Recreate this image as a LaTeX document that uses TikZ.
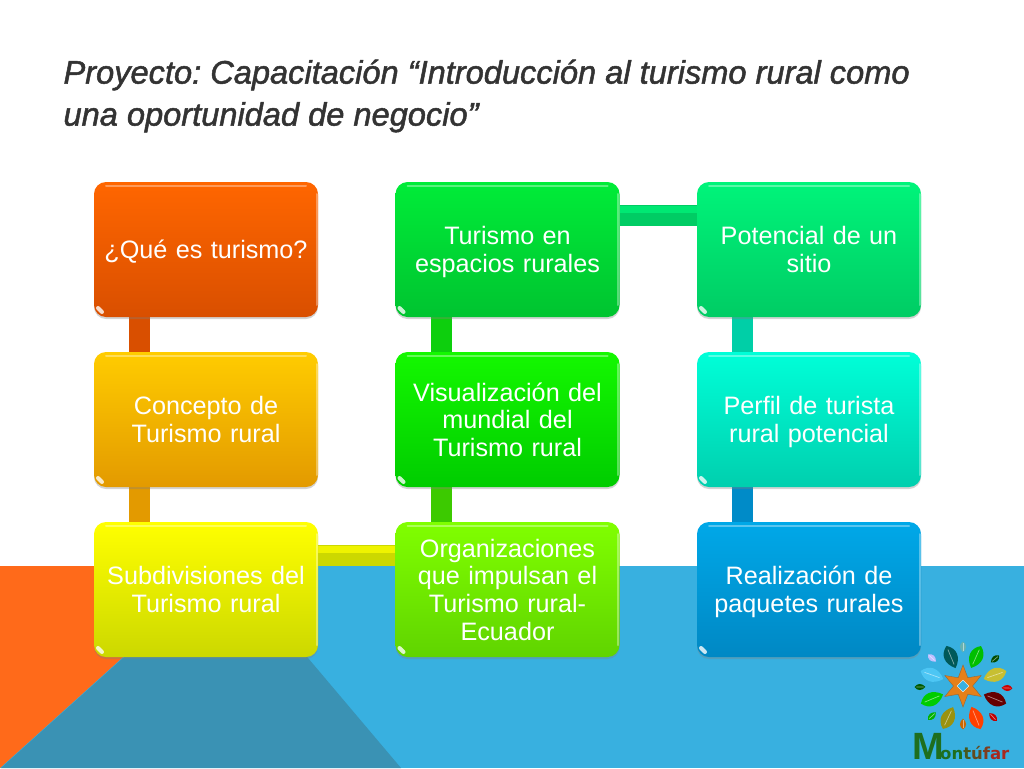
\documentclass[tikz,border=0pt]{standalone}
\usepackage{fontspec}
\setmainfont{Liberation Sans}
\newfontfamily\titulofont[FakeBold=1.5]{Liberation Sans Italic}
\newfontfamily\logofont{DejaVu Sans}
\usetikzlibrary{shapes.geometric,shadows,backgrounds}
\definecolor{fondoazul}{HTML}{38B0E0}
\definecolor{fondonaranja}{HTML}{FF6A1A}
\definecolor{fondooscuro}{HTML}{3A92B4}
\definecolor{verdelogo}{HTML}{1E6E1E}
\definecolor{rojologo}{HTML}{A8281E}
\tikzset{
  tema/.style 2 args={draw=none, rounded corners=12pt, minimum width=224pt, minimum height=135pt,
    outer sep=0pt, inner sep=0pt, top color=#1, bottom color=#2, text=white, text width=216pt, align=center,
    font=\fontsize{25.2}{27.6}\selectfont, execute at begin node=\rule{0pt}{23.5pt}, execute at end node=\vphantom{gp},
    drop shadow={shadow xshift=0pt, shadow yshift=-2pt, opacity=.35}},
  enlace/.style={line width=21pt},
  brillo/.style={line width=7pt, opacity=.7},
  reflejo/.style={line width=2pt, line cap=round, white, opacity=.35}
}
\definecolor{a1}{HTML}{FF6600}\definecolor{a2}{HTML}{D94F00}
\definecolor{b1}{HTML}{FFCC00}\definecolor{b2}{HTML}{E39A00}
\definecolor{c1}{HTML}{FFFF00}\definecolor{c2}{HTML}{CCD800}
\definecolor{d1}{HTML}{00EC38}\definecolor{d2}{HTML}{00C430}
\definecolor{e1}{HTML}{14F800}\definecolor{e2}{HTML}{00CC00}
\definecolor{f1}{HTML}{80FF00}\definecolor{f2}{HTML}{60D400}
\definecolor{g1}{HTML}{00F47A}\definecolor{g2}{HTML}{00CC64}
\definecolor{h1}{HTML}{00FFD8}\definecolor{h2}{HTML}{00CFAE}
\definecolor{i1}{HTML}{00A8E8}\definecolor{i2}{HTML}{0088C4}
\begin{document}
\begin{tikzpicture}[x=1pt, y=-1pt]
  \useasboundingbox (0,0) rectangle (1024,768);

  % titulo
  \node (titulo) [anchor=west, align=left, text=black!80, font=\fontsize{32.6}{42}\titulofont\frenchspacing] at (60,96)
    {Proyecto: Capacitación “Introducción al turismo rural como\\una oportunidad de negocio”};

  % cajas
  \node (que) [tema={a1}{a2}] at (206,249.5) {¿Qué es turismo?};
  \node (con) [tema={b1}{b2}] at (206,419.5) {Concepto de\\Turismo rural};
  \node (sub) [tema={c1}{c2}] at (206,589.5) {Subdivisiones del\\Turismo rural};
  \node (esp) [tema={d1}{d2}] at (507.5,249.5) {Turismo en\\espacios rurales};
  \node (vis) [tema={e1}{e2}] at (507.5,419.5) {Visualización del\\mundial del\\Turismo rural};
  \node (org) [tema={f1}{f2}] at (507.5,589.5) {Organizaciones\\que impulsan el\\Turismo rural-\\Ecuador};
  \node (pot) [tema={g1}{g2}] at (809,249.5) {Potencial de un\\sitio};
  \node (per) [tema={h1}{h2}] at (809,419.5) {Perfil de turista\\rural potencial};
  \node (rea) [tema={i1}{i2}] at (809,589.5) {Realización de\\paquetes rurales};

  \foreach \n in {que,con,sub,esp,vis,org,pot,per,rea} {
    \draw[reflejo] ([xshift=12pt,yshift=-4pt]\n.north west) -- ([xshift=-12pt,yshift=-4pt]\n.north east);
    \draw[reflejo] ([xshift=-1.5pt,yshift=-12pt]\n.north east) -- ([xshift=-1.5pt,yshift=12pt]\n.south east);
    \draw[white, opacity=.8, line width=4pt, line cap=round] ([xshift=4pt,yshift=9pt]\n.south west) -- ([xshift=8pt,yshift=5pt]\n.south west);
  }

  \begin{scope}[on background layer]
    % fondo
    \fill[fondoazul] (0,566) rectangle (1024,768);
    \fill[fondonaranja] (0,566) -- (224,566) -- (0,768) -- cycle;
    \fill[fondooscuro] (1,768) -- (123,658) -- (200,600) -- (260,600) -- (308,658) -- (401,768) -- cycle;

    % enlaces
    \draw[enlace, color=a2] ([xshift=45pt]que.south west) -- ([xshift=45pt]con.north west);
    \draw[enlace, color=b2] ([xshift=45pt]con.south west) -- ([xshift=45pt]sub.north west);
    \draw[enlace, color=c2] ([yshift=-33pt]sub.north east) -- ([yshift=-33pt]org.north west);
    \draw[enlace, color=f2!70!green!90!black] ([xshift=46pt]org.north west) -- ([xshift=46pt]vis.south west);
    \draw[enlace, color=e2!95!white] ([xshift=46pt]vis.north west) -- ([xshift=46pt]esp.south west);
    \draw[enlace, color=g2] ([yshift=-33pt]esp.north east) -- ([yshift=-33pt]pot.north west);
    \draw[enlace, color=h2!90!g2] ([xshift=45pt]pot.south west) -- ([xshift=45pt]per.north west);
    \draw[enlace, color=i2!90!i1] ([xshift=45pt]per.south west) -- ([xshift=45pt]rea.north west);
    \draw[brillo, color=c1] ([yshift=-27pt]sub.north east) -- ([yshift=-27pt]org.north west);
    \draw[brillo, color=g1] ([yshift=-27pt]esp.north east) -- ([yshift=-27pt]pot.north west);
  \end{scope}

  % logo
  \foreach \x/\y/\c/\s in {951/657/teal!70!black/1, 976/657/green!75!black/1, 932/675/cyan!70/1,
      995/675/yellow!75!black/1, 932/699/green!80!black/1, 995/699/red!40!black/1,
      948/718/olive!90/1, 976/718/orange!50!red/1, 963/647/teal!60/.45, 932/658/blue!25/.45,
      995/659/green!30!black/.45, 920/687/green!35!black/.45, 1007/688/red!80!black/.45,
      932/716/green!70!black/.45, 993/717/red!75!black/.45, 963/724/orange!80!black/.45} {
    \pgfmathsetmacro{\ang}{atan2(686-\y,\x-963)}
    \fill[\c, rotate around={\ang:(\x,\y)}]
      (\x-12*\s,\y) .. controls (\x-4*\s,\y-9*\s) and (\x+6*\s,\y-9*\s) .. (\x+12*\s,\y)
      .. controls (\x+6*\s,\y+9*\s) and (\x-4*\s,\y+9*\s) .. (\x-12*\s,\y) -- cycle;
    \draw[white, opacity=.5, line width=.7pt, rotate around={\ang:(\x,\y)}] (\x-8*\s,\y) -- (\x+8*\s,\y);
  }
  \node (estrella) [star, star points=6, star point ratio=2.2, minimum size=42pt, inner sep=0pt,
    fill=orange!60!brown, draw=brown!80!black] at (963,686) {};
  \node (centro) [diamond, fill=fondoazul, draw=white, minimum size=12pt, inner sep=0pt] at (963,686) {};
  \node (eme) [anchor=base west, inner sep=0pt, text=verdelogo, font=\fontsize{38}{38}\selectfont\bfseries] at (912,759) {M};
  \node (montufar) [anchor=base west, inner sep=0pt, font=\fontsize{16.5}{17}\logofont\bfseries] at (940,759)
    {\textcolor{verdelogo}{on}\textcolor{verdelogo!70!rojologo}{t}\textcolor{verdelogo!50!rojologo}{ú}\textcolor{verdelogo!30!rojologo}{f}\textcolor{rojologo}{ar}};
\end{tikzpicture}
\end{document}
